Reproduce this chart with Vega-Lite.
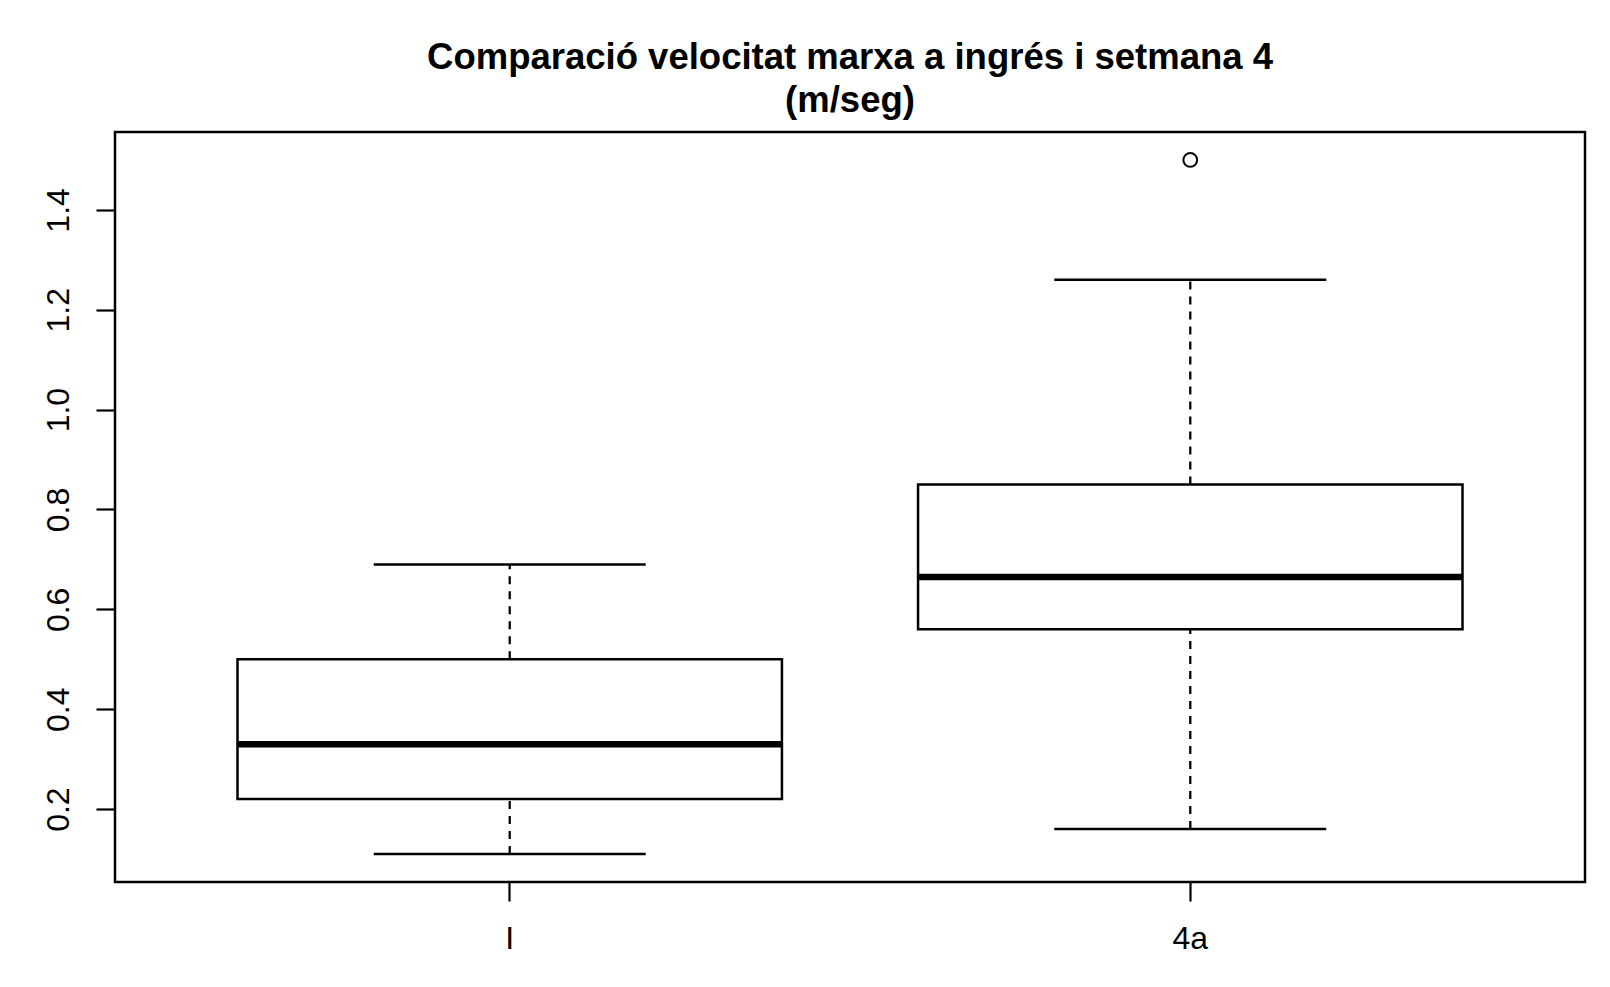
{
  "$schema": "https://vega.github.io/schema/vega-lite/v6.json",
  "autosize": "none",
  "width": 1470,
  "height": 750,
  "padding": {"left": 115, "top": 132, "right": 25, "bottom": 105},
  "background": "white",
  "title": {
    "text": ["Comparació velocitat marxa a ingrés i setmana 4", "(m/seg)"],
    "font": "Liberation Sans",
    "fontSize": 36.5,
    "fontWeight": "bold",
    "color": "black",
    "anchor": "middle",
    "lineHeight": 43,
    "offset": 13
  },
  "datasets": {
    "stats": [
      {"grup": "I", "min": 0.11, "q1": 0.22, "mediana": 0.33, "q3": 0.50, "max": 0.69},
      {"grup": "4a", "min": 0.16, "q1": 0.56, "mediana": 0.665, "q3": 0.85, "max": 1.26}
    ],
    "outliers": [
      {"grup": "4a", "valor": 1.5}
    ]
  },
  "config": {
    "view": {"stroke": "black", "strokeWidth": 2.5},
    "axis": {
      "labelFont": "Liberation Sans",
      "labelFontSize": 32,
      "labelColor": "black",
      "tickColor": "black",
      "tickWidth": 2.2,
      "tickSize": 19,
      "domain": false,
      "grid": false,
      "title": null
    }
  },
  "encoding": {
    "x": {
      "field": "grup",
      "type": "nominal",
      "sort": ["I", "4a"],
      "scale": {"domain": ["I", "4a"], "paddingInner": 0.2, "paddingOuter": 0.18},
      "axis": {"labelAngle": 0, "labelPadding": 22, "labelBaseline": "top"}
    }
  },
  "layer": [
    {
      "data": {"name": "stats"},
      "mark": {"type": "rule", "strokeDash": [8, 7], "strokeWidth": 2.3, "color": "black"},
      "encoding": {
        "y": {
          "field": "q3",
          "type": "quantitative",
          "scale": {"domain": [0.054, 1.556], "nice": false, "zero": false},
          "axis": {"values": [0.2, 0.4, 0.6, 0.8, 1.0, 1.2, 1.4], "format": ".1f", "labelAngle": -90, "labelAlign": "center", "labelBaseline": "bottom", "labelPadding": 21}
        },
        "y2": {"field": "max"}
      }
    },
    {
      "data": {"name": "stats"},
      "mark": {"type": "rule", "strokeDash": [8, 7], "strokeWidth": 2.3, "color": "black"},
      "encoding": {
        "y": {"field": "min", "type": "quantitative"},
        "y2": {"field": "q1"}
      }
    },
    {
      "data": {"name": "stats"},
      "mark": {"type": "bar", "fill": "white", "stroke": "black", "strokeWidth": 2.5},
      "encoding": {
        "y": {"field": "q1", "type": "quantitative"},
        "y2": {"field": "q3"}
      }
    },
    {
      "data": {"name": "stats"},
      "mark": {"type": "tick", "color": "black", "size": 544, "thickness": 6.5, "opacity": 1},
      "encoding": {
        "y": {"field": "mediana", "type": "quantitative"}
      }
    },
    {
      "data": {"name": "stats"},
      "mark": {"type": "tick", "color": "black", "size": 272, "thickness": 2.5, "opacity": 1},
      "encoding": {
        "y": {"field": "max", "type": "quantitative"}
      }
    },
    {
      "data": {"name": "stats"},
      "mark": {"type": "tick", "color": "black", "size": 272, "thickness": 2.5, "opacity": 1},
      "encoding": {
        "y": {"field": "min", "type": "quantitative"}
      }
    },
    {
      "data": {"name": "outliers"},
      "mark": {"type": "point", "shape": "circle", "filled": false, "stroke": "black", "strokeWidth": 2, "size": 190, "opacity": 1},
      "encoding": {
        "y": {"field": "valor", "type": "quantitative"}
      }
    }
  ]
}
